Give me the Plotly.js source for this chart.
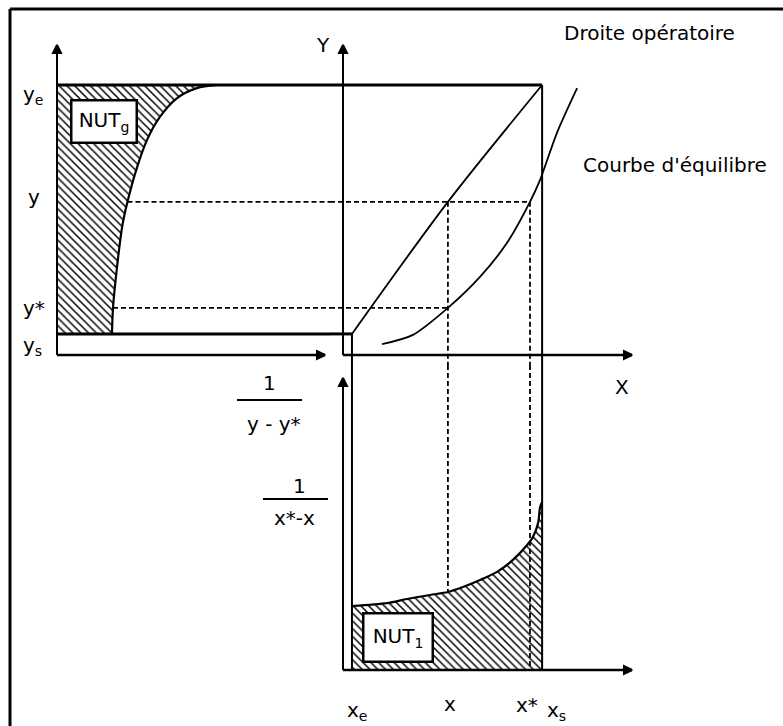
<!DOCTYPE html>
<html>
<head>
<meta charset="utf-8">
<script src="https://cdn.plot.ly/plotly-3.0.1.min.js"></script>
<style>
  html, body { margin: 0; padding: 0; background: #fff; }
  #plot { width: 783px; height: 726px; }
</style>
</head>
<body>
<div id="plot"></div>
<script>
// Liquid compositions X at the column ends and at one level: xe, x, x*, xs
const xComp = [0.0031, 0.0363, 0.0647, 0.0689];
const xCompLabels = ['x<sub>e</sub>', 'x', 'x*', 'x<sub>s</sub>'];
// Gas compositions Y: ys, y*, y, ye
const yComp = [0.0068, 0.0152, 0.0494, 0.0871];
const yCompLabels = ['y<sub>s</sub>', 'y*', 'y', 'y<sub>e</sub>'];

// Equilibrium curve Y* = f(X)
const eqX = [0.0135, 0.0242, 0.0363, 0.0474, 0.0567, 0.0647, 0.0682, 0.0740, 0.0810];
const eqY = [0.0035, 0.0065, 0.0152, 0.0252, 0.0361, 0.0494, 0.0565, 0.0716, 0.0861];

// Operating line from (xe, ys) to (xs, ye)
const opX = [0.0031, 0.0363, 0.0689];
const opY = [0.0068, 0.0494, 0.0871];

// Gas-side integrand 1/(y - y*) along y (NUTg area)
const gasY   = [0.0068, 0.0152, 0.0284, 0.0413, 0.0494, 0.0606, 0.0694, 0.0768, 0.0829, 0.0861, 0.0871];
const gasInv = [20.5, 20.9, 22.4, 24.3, 26.3, 29.9, 33.6, 38.4, 44.8, 52.2, 59.7];

// Liquid-side integrand 1/(x* - x) along x (NUTl area)
const liqX   = [0.0031, 0.0152, 0.0221, 0.0301, 0.0363, 0.0415, 0.0474, 0.0533, 0.0588, 0.0637, 0.0657, 0.0675, 0.0682, 0.0689];
const liqInv = [21.9, 22.9, 24.3, 25.7, 26.7, 28.4, 30.8, 33.6, 37.7, 42.8, 45.5, 50.3, 55.8, 57.5];

// Ends of the drawn axes (arrow tips)
const axisEnd = { X: 0.1, Y: 0.1, gas: 100, liq: 100 };

const W = 783, H = 726;
const BLACK = '#000';
const FONT = 'DejaVu Sans, Verdana, sans-serif';

// Panel geometry in pixels: where the origin sits and how many px per unit
const geomX = { origin: 343, scale: 2890, lo: 330, hi: 650 };
const geomY = { origin: 355, scale: 3100, top: 25, bottom: 365 };
const geomU = { origin: 57, scale: 2.68, lo: 45, hi: 330 };
const geomV = { origin: 670, scale: 2.92, top: 365, bottom: 700 };

function hAxis(g) {
  return { domain: [g.lo / W, g.hi / W],
           range: [(g.lo - g.origin) / g.scale, (g.hi - g.origin) / g.scale] };
}
function vAxis(g) {
  return { domain: [1 - g.bottom / H, 1 - g.top / H],
           range: [(g.origin - g.bottom) / g.scale, (g.origin - g.top) / g.scale] };
}
const axX = hAxis(geomX), axY = vAxis(geomY), axU = hAxis(geomU), axV = vAxis(geomV);
const XMin = axX.range[0], YMin = axY.range[0], uMax = axU.range[1], vMax = axV.range[1];

const [xe, xv, xStar, xs] = xComp;
const [ys, yStar, yv, ye] = yComp;

function line(x, y, xa, ya, width, dash, smooth) {
  return { type: 'scatter', mode: 'lines', x: x, y: y, xaxis: xa, yaxis: ya,
           line: { color: BLACK, width: width, dash: dash || 'solid',
                   shape: smooth ? 'spline' : 'linear', smoothing: 0.8 },
           hoverinfo: 'skip' };
}
function arrows(x, y, symbols, xa, ya) {
  return { type: 'scatter', mode: 'markers', x: x, y: y, xaxis: xa, yaxis: ya,
           cliponaxis: false,
           marker: { symbol: symbols, size: 8, color: BLACK, line: { color: BLACK, width: 2 } },
           hoverinfo: 'skip' };
}
const hatch = { shape: '\\', size: 5.5, solidity: 0.27, fgcolor: BLACK, bgcolor: '#fff', fillmode: 'replace' };
const DASH = '5px,3px';

// integrand curve, hatched down to its own axis
function hatchedCurve(x, y, xa, ya, fillTo) {
  const t = line(x, y, xa, ya, 2.2, null, true);
  t.fill = fillTo;
  t.fillcolor = '#fff';
  t.fillpattern = hatch;
  return t;
}

const traces = [
  // ---- gas-side panel : 1/(y - y*) versus y
  hatchedCurve(gasInv, gasY, 'x2', 'y', 'tozerox'),
  line([0, 0], [0, axisEnd.Y], 'x2', 'y', 2),
  line([0, axisEnd.gas], [0, 0], 'x2', 'y', 2.5),
  line([0, uMax], [ye, ye], 'x2', 'y', 3),
  line([0, uMax], [ys, ys], 'x2', 'y', 3),
  line([gasInv[gasY.indexOf(yv)], uMax], [yv, yv], 'x2', 'y', 1.8, DASH),
  line([gasInv[gasY.indexOf(yStar)], uMax], [yStar, yStar], 'x2', 'y', 1.8, DASH),
  arrows([0, axisEnd.gas], [axisEnd.Y, 0], ['arrow-up', 'arrow-right'], 'x2', 'y'),

  // ---- main panel : Y versus X
  line([XMin, xs], [ye, ye], 'x', 'y', 3),
  line([XMin, xe], [ys, ys], 'x', 'y', 3),
  line([0, 0], [0, axisEnd.Y], 'x', 'y', 2),
  line([0, axisEnd.X], [0, 0], 'x', 'y', 2.5),
  line([xs, xs], [ye, YMin], 'x', 'y', 2),
  line([xe, xe], [ys, YMin], 'x', 'y', 2),
  line(opX, opY, 'x', 'y', 1.8, null, true),
  line(eqX, eqY, 'x', 'y', 1.8, null, true),
  line([XMin, xStar], [yv, yv], 'x', 'y', 1.8, DASH),
  line([XMin, xv], [yStar, yStar], 'x', 'y', 1.8, DASH),
  line([xv, xv], [yv, YMin], 'x', 'y', 1.8, DASH),
  line([xStar, xStar], [yv, YMin], 'x', 'y', 1.8, DASH),
  arrows([0, axisEnd.X], [axisEnd.Y, 0], ['arrow-up', 'arrow-right'], 'x', 'y'),

  // ---- liquid-side panel : 1/(x* - x) versus x
  hatchedCurve(liqX, liqInv, 'x3', 'y3', 'tozeroy'),
  line([0, 0], [0, axisEnd.liq], 'x3', 'y3', 2),
  line([0, axisEnd.X], [0, 0], 'x3', 'y3', 2.5),
  line([xe, xe], [vMax, 0], 'x3', 'y3', 2),
  line([xs, xs], [vMax, 0], 'x3', 'y3', 2),
  line([xv, xv], [vMax, liqInv[liqX.indexOf(xv)]], 'x3', 'y3', 1.8, DASH),
  line([xStar, xStar], [vMax, 0], 'x3', 'y3', 1.8, DASH),
  arrows([0, axisEnd.X], [axisEnd.liq, 0], ['arrow-up', 'arrow-right'], 'x3', 'y3')
];

// text placed on the page in pixel terms
function label(text, x, y, size, xanchor) {
  return { xref: 'paper', yref: 'paper', x: x / W, y: 1 - y / H,
    text: '<span style="font-size:' + size + 'px">' + text + '</span>',
    showarrow: false, xanchor: xanchor || 'center', yanchor: 'middle',
    font: { family: FONT, size: size, color: BLACK } };
}
function box(text, xa, ya, x, y, w, h) {
  return { xref: xa, yref: ya, x: x, y: y, text: text, showarrow: false,
    width: w, height: h, bgcolor: '#fff', bordercolor: BLACK, borderwidth: 2.5, borderpad: 0,
    font: { family: FONT, size: 20, color: BLACK } };
}

const annotations = [
  label('Droite opératoire', 562, 33, 20, 'left'),
  label("Courbe d'équilibre", 581, 165, 20, 'left'),
  label('Y', 323, 45, 20),
  label('X', 622, 387, 20),
  label(yCompLabels[3], 21, 95, 20, 'left'),
  label(yCompLabels[2], 26, 197, 20, 'left'),
  label(yCompLabels[1], 21, 308, 20, 'left'),
  label(yCompLabels[0], 21, 346, 20, 'left'),
  label('1', 269, 383, 20),
  label('y - y*', 274, 424, 20),
  label('1', 299, 486, 20),
  label('x*-x', 294, 518, 20),
  label(xCompLabels[0], 345, 711, 20, 'left'),
  label(xCompLabels[1], 450, 704, 20),
  label(xCompLabels[2], 540, 705, 20, 'right'),
  label(xCompLabels[3], 545, 711, 20, 'left'),
  box('NUT<sub>g</sub>', 'x2', 'y', 17.4, 0.0752, 63, 40),
  box('NUT<sub>1</sub>', 'x3', 'y3', 0.0192, 11.0, 67, 46)
];

function rule(x0, y0, x1, y1, w) {
  return { type: 'line', xref: 'paper', yref: 'paper',
    x0: x0 / W, y0: 1 - y0 / H, x1: x1 / W, y1: 1 - y1 / H,
    line: { color: BLACK, width: w } };
}
const shapes = [
  rule(10, 9, 10, 726, 3),
  rule(10, 9, 783, 9, 3),
  rule(237, 400, 302, 400, 2),
  rule(263, 499, 328, 499, 2)
];

const hidden = { visible: false, fixedrange: true };
const layout = {
  width: W, height: H,
  margin: { l: 0, r: 0, t: 0, b: 0 },
  paper_bgcolor: '#fff', plot_bgcolor: 'rgba(0,0,0,0)',
  showlegend: false, hovermode: false,
  xaxis:  Object.assign({}, hidden, axX, { anchor: 'y' }),
  yaxis:  Object.assign({}, hidden, axY, { anchor: 'x' }),
  xaxis2: Object.assign({}, hidden, axU, { anchor: 'y' }),
  xaxis3: Object.assign({}, hidden, axX, { anchor: 'y3' }),
  yaxis3: Object.assign({}, hidden, axV, { anchor: 'x3' }),
  annotations: annotations,
  shapes: shapes
};

Plotly.newPlot('plot', traces, layout, { staticPlot: true, displayModeBar: false });
</script>
</body>
</html>
